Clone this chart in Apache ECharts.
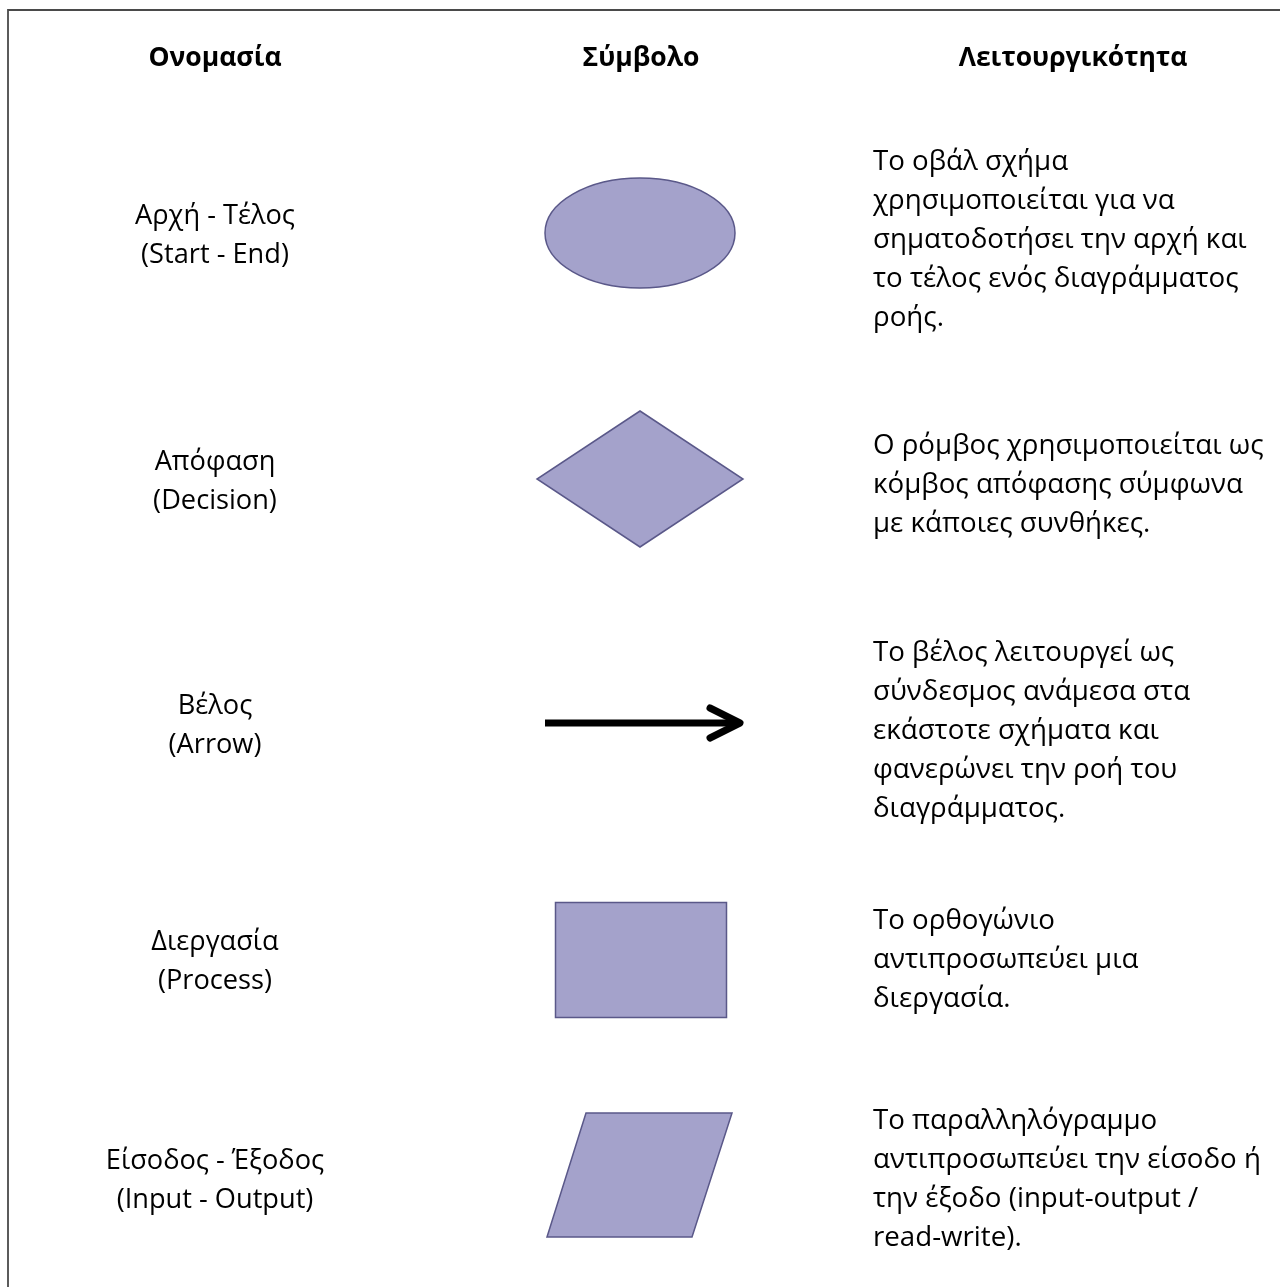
<!DOCTYPE html>
<html>
<head>
<meta charset="utf-8">
<script src="https://cdn.jsdelivr.net/npm/echarts@6/dist/echarts.min.js"></script>
<style>
html,body{margin:0;padding:0;background:#fff;}
#chart{width:1280px;height:1287px;}
</style>
</head>
<body>
<div id="chart"></div>
<script>
// ---- content ----
const headers = ['Ονομασία', 'Σύμβολο', 'Λειτουργικότητα'];
const names = [
  'Αρχή - Τέλος\n(Start - End)',
  'Απόφαση\n(Decision)',
  'Βέλος\n(Arrow)',
  'Διεργασία\n(Process)',
  'Είσοδος - Έξοδος\n(Input - Output)'
];
const symbols = ['ellipse', 'diamond', 'arrow', 'rect', 'parallelogram'];
const descriptions = [
  'Το οβάλ σχήμα\nχρησιμοποιείται για να\nσηματοδοτήσει την αρχή και\nτο τέλος ενός διαγράμματος\nροής.',
  'Ο ρόμβος χρησιμοποιείται ως\nκόμβος απόφασης σύμφωνα\nμε κάποιες συνθήκες.',
  'Το βέλος λειτουργεί ως\nσύνδεσμος ανάμεσα στα\nεκάστοτε σχήματα και\nφανερώνει την ροή του\nδιαγράμματος.',
  'Το ορθογώνιο\nαντιπροσωπεύει μια\nδιεργασία.',
  'Το παραλληλόγραμμο\nαντιπροσωπεύει την είσοδο ή\nτην έξοδο (input-output /\nread-write).'
];

// ---- layout (page units) ----
const W = 1280, H = 1287;
const headerX = [215, 641, 1073];
const headerY = 58;
const nameX = 215;
const nameY = [236, 482, 726, 962, 1181];
const symbolX = 640;
const symbolY = [233, 479, 723, 960, 1175];
const descX = 873;
const descY = [240, 485, 731, 960, 1180];
const lineH = 39;
const font = '"Open Sans", "Noto Sans", sans-serif';
const fill = '#a4a2cb', stroke = '#5a5889';

const chart = echarts.init(document.getElementById('chart'), null, {renderer: 'canvas'});

function textItem(api, txt, align, size, weight) {
  const p = api.coord([api.value(0), api.value(1)]);
  return {
    type: 'text', x: p[0], y: p[1], silent: true,
    style: {
      text: txt, fill: '#000', fontFamily: font, fontSize: size, fontWeight: weight,
      align: align, verticalAlign: 'middle', textAlign: align, textVerticalAlign: 'middle',
      lineHeight: lineH
    }
  };
}

function shapeItem(api) {
  const kind = symbols[api.value(2)];
  const c = api.coord([api.value(0), api.value(1)]);
  const st = {fill: fill, stroke: stroke, lineWidth: 1.5};
  const P = (dx, dy) => { const q = api.coord([api.value(0) + dx, api.value(1) + dy]); return [q[0], q[1]]; };
  if (kind === 'ellipse') {
    const s = api.size([95, 55]);
    return {type: 'ellipse', shape: {cx: c[0], cy: c[1], rx: s[0], ry: s[1]}, style: st};
  }
  if (kind === 'diamond') {
    return {type: 'polygon', shape: {points: [P(0, -68), P(103, 0), P(0, 68), P(-103, 0)]}, style: st};
  }
  if (kind === 'rect') {
    const a = P(-84.5, -57.5), s = api.size([171, 115]);
    return {type: 'rect', shape: {x: a[0], y: a[1], width: s[0], height: s[1]}, style: st};
  }
  if (kind === 'parallelogram') {
    return {type: 'polygon', shape: {points: [P(-54, -62), P(92, -62), P(52, 62), P(-93, 62)]}, style: st};
  }
  // arrow
  const lst = {stroke: '#000', lineWidth: 7, lineCap: 'round', lineJoin: 'round', fill: null};
  return {
    type: 'group', children: [
      {type: 'line', shape: {x1: P(-95, 0)[0], y1: c[1], x2: P(100, 0)[0], y2: c[1]}, style: {stroke: '#000', lineWidth: 7, lineCap: 'butt'}},
      {type: 'polyline', shape: {points: [P(70, -15), P(100, 0), P(70, 15)]}, style: lst}
    ]
  };
}

chart.setOption({
  animation: false,
  backgroundColor: '#fff',
  grid: {left: 0, right: 0, top: 0, bottom: 0},
  xAxis: {type: 'value', min: 0, max: W, show: false},
  yAxis: {type: 'value', min: 0, max: H, inverse: true, show: false},
  series: [
    {
      type: 'custom', coordinateSystem: 'cartesian2d', silent: true,
      data: [[0, 0]],
      renderItem: function (params, api) {
        const a = api.coord([8, 10]);
        const b = api.coord([W + 20, H + 20]);
        return {type: 'rect', shape: {x: a[0], y: a[1], width: b[0] - a[0], height: b[1] - a[1]},
          style: {fill: null, stroke: '#4a4a4a', lineWidth: 1.8}};
      }
    },
    {
      type: 'custom', coordinateSystem: 'cartesian2d', silent: true,
      data: headers.map((h, i) => [headerX[i], headerY, i]),
      renderItem: (params, api) => textItem(api, headers[api.value(2)], 'center', 26.5, 'bold')
    },
    {
      type: 'custom', coordinateSystem: 'cartesian2d', silent: true,
      data: names.map((n, i) => [nameX, nameY[i], i]),
      renderItem: (params, api) => textItem(api, names[api.value(2)], 'center', 27.2, 'normal')
    },
    {
      type: 'custom', coordinateSystem: 'cartesian2d', silent: true,
      data: symbols.map((s, i) => [symbolX, symbolY[i], i]),
      renderItem: (params, api) => shapeItem(api)
    },
    {
      type: 'custom', coordinateSystem: 'cartesian2d', silent: true,
      data: descriptions.map((d, i) => [descX, descY[i], i]),
      renderItem: (params, api) => textItem(api, descriptions[api.value(2)], 'left', 27.7, 'normal')
    }
  ]
});
</script>
</body>
</html>
